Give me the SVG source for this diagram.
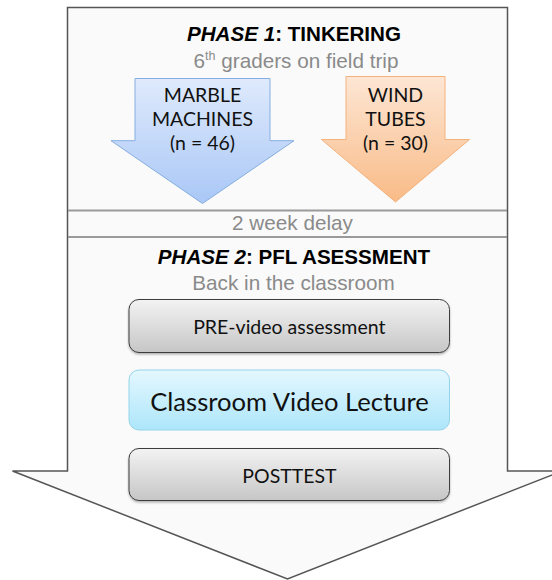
<svg xmlns="http://www.w3.org/2000/svg" width="552" height="580" viewBox="0 0 552 580">
  <defs>
    <linearGradient id="gBlue" x1="0" y1="0" x2="0" y2="1">
      <stop offset="0" stop-color="#dfeafc"/>
      <stop offset="1" stop-color="#a9c7f6"/>
    </linearGradient>
    <linearGradient id="gOrange" x1="0" y1="0" x2="0" y2="1">
      <stop offset="0" stop-color="#fde6d4"/>
      <stop offset="1" stop-color="#f9bb87"/>
    </linearGradient>
    <linearGradient id="gGray" x1="0" y1="0" x2="0" y2="1">
      <stop offset="0" stop-color="#f3f3f3"/>
      <stop offset="1" stop-color="#c6c6c6"/>
    </linearGradient>
    <linearGradient id="gCyan" x1="0" y1="0" x2="0" y2="1">
      <stop offset="0" stop-color="#e4f7fe"/>
      <stop offset="1" stop-color="#ade6fa"/>
    </linearGradient>
    <filter id="shadow" x="-5%" y="-10%" width="110%" height="130%">
      <feDropShadow dx="0" dy="1.5" stdDeviation="1" flood-color="#000" flood-opacity="0.3"/>
    </filter>
  </defs>
  <style>
    .head { font-family: "Liberation Sans", Arial, sans-serif; font-size: 20.6px; font-weight: bold; fill: #000; text-anchor: middle; }
    .sub { font-family: "Liberation Sans", Arial, sans-serif; font-size: 20.7px; fill: #8a8a8a; text-anchor: middle; }
    .cal { font-family: Lato, "Open Sans", sans-serif; font-size: 19.5px; fill: #111; text-anchor: middle; }
    .big { font-family: Lato, "Open Sans", sans-serif; font-size: 25.6px; fill: #111; text-anchor: middle; }
    .grayBox { fill: url(#gGray); stroke: #3c3c3c; stroke-width: 1; }
  </style>

  <!-- big outer arrow that frames both phases -->
  <g id="frame">
    <path d="M67.5,7.5 H507.5 V471 H562 L287.5,579 L12.5,471 H67.5 Z" fill="#fafafa" stroke="#555" stroke-width="1.5" stroke-linejoin="miter"/>
    <line x1="68" y1="210.5" x2="507" y2="210.5" stroke="#9a9a9a" stroke-width="2"/>
    <line x1="68" y1="237" x2="507" y2="237" stroke="#9a9a9a" stroke-width="2"/>
  </g>

  <g id="phase1-title">
    <text class="head" x="294" y="41"><tspan font-style="italic">PHASE 1</tspan>: TINKERING</text>
    <text class="sub" x="296" y="68">6<tspan font-size="12.5px" dy="-8">th</tspan><tspan dy="8"> graders on field trip</tspan></text>
  </g>

  <g id="marble">
    <path d="M135,78.5 H270 V140.7 H294 L202.5,203.5 L111,140.7 H135 Z" fill="url(#gBlue)" stroke="#86aee0" stroke-width="1"/>
    <text class="cal" x="202.5" y="101.5">MARBLE</text>
    <text class="cal" x="202.5" y="125.5">MACHINES</text>
    <text class="cal" x="202.5" y="149.5">(n = 46)</text>
  </g>

  <g id="wind">
    <path d="M346,76.5 H445 V139.5 H469.5 L395.5,202 L321.5,139.5 H346 Z" fill="url(#gOrange)" stroke="#f4b27c" stroke-width="1"/>
    <text class="cal" x="395.5" y="101.5">WIND</text>
    <text class="cal" x="395.5" y="125.5">TUBES</text>
    <text class="cal" x="395.5" y="149.5">(n = 30)</text>
  </g>

  <g id="delay">
    <text class="sub" x="292.5" y="230">2 week delay</text>
  </g>

  <g id="phase2-title">
    <text class="head" x="294" y="263.5"><tspan font-style="italic">PHASE 2</tspan>: PFL ASESSMENT</text>
    <text class="sub" x="293.5" y="290">Back in the classroom</text>
  </g>

  <g id="pre">
    <rect class="grayBox" x="129" y="299.5" width="320.5" height="53" rx="10" filter="url(#shadow)"/>
    <text class="cal" x="289.3" y="334">PRE-video assessment</text>
  </g>

  <g id="lecture">
    <rect x="129" y="370" width="320.5" height="60" rx="10" fill="url(#gCyan)" stroke="#94d4ea" stroke-width="1"/>
    <text class="big" x="289.5" y="410.7">Classroom Video Lecture</text>
  </g>

  <g id="post">
    <rect class="grayBox" x="129" y="448.5" width="320.5" height="52" rx="10" filter="url(#shadow)"/>
    <text class="cal" x="289.5" y="483.3">POSTTEST</text>
  </g>

  <g id="connectors"></g>
</svg>
